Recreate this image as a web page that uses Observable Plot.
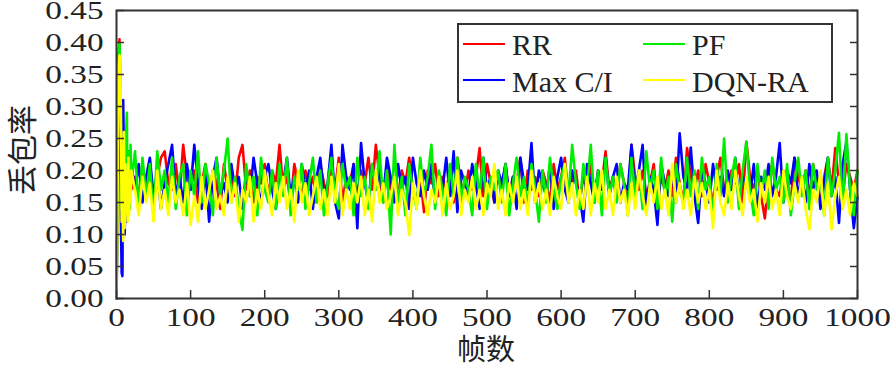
<!DOCTYPE html>
<html><head><meta charset="utf-8">
<script src="https://cdn.jsdelivr.net/npm/d3@7"></script>
<script src="https://cdn.jsdelivr.net/npm/@observablehq/plot@0.6"></script>
<style>
body{margin:0;background:#fff;}
#wrap{position:relative;width:892px;height:367px;overflow:hidden;}
#legend{position:absolute;left:457px;top:23px;}
</style></head><body><div id="wrap"></div>
<script>
// frame index: every frame for 0..20, then every 5 frames up to 1000
const frames = d3.range(0, 21).concat(d3.range(25, 1001, 5));

const seriesNames = ["RR", "Max C/I", "PF", "DQN-RA"];
const seriesColors = ["#ff0000", "#0000ff", "#00ee00", "#ffff00"];

const xTicks = [0, 100, 200, 300, 400, 500, 600, 700, 800, 900, 1000];
const yTicks = [0, 0.05, 0.10, 0.15, 0.20, 0.25, 0.30, 0.35, 0.40, 0.45];

const rr = [
  0,.12,.30,.38,.405,.33,.22,.15,.19,.21,.16,.20,.18,.22,.17,.19,.21,.16,.19,.20,.17,
  .19,.16,.21,.17,.20,.15,.19,.22,.23,.18,
  .17,.21,.16,.24,.19,.17,.20,.15,.18,.21,
  .16,.20,.18,.14,.21,.17,.19,.16,.22,.24,
  .17,.20,.15,.19,.18,.21,.16,.20,.18,.24,
  .17,.19,.15,.21,.18,.16,.20,.17,.19,.15,
  .21,.18,.16,.20,.17,.22,.15,.19,.18,.21,
  .16,.20,.18,.22,.17,.24,.19,.15,.21,.17,
  .19,.16,.20,.18,.22,.17,.15,.19,.135,.20,
  .18,.21,.16,.19,.17,.20,.15,.22,.18,.16,
  .20,.17,.19,.235,.16,.21,.18,.15,.19,.17,
  .21,.16,.19,.18,.22,.15,.20,.17,.19,.16,
  .20,.18,.15,.21,.17,.19,.22,.16,.18,.20,
  .15,.19,.17,.21,.16,.20,.18,.23,.17,.19,
  .16,.21,.18,.15,.24,.19,.17,.20,.16,.18,
  .21,.15,.19,.17,.20,.16,.22,.18,.15,.235,
  .19,.17,.20,.16,.21,.18,.15,.19,.22,.17,
  .16,.20,.18,.21,.15,.245,.19,.17,.20,.16,
  .125,.19,.21,.17,.16,.20,.18,.15,.22,.19,
  .17,.20,.16,.21,.18,.15,.19,.22,.17,.235,
  .18,.16,.21,.19,.17,.20
];

const maxci = [
  0,.10,.28,.37,.39,.30,.12,.04,.035,.31,.22,.10,.16,.21,.12,.19,.23,.15,.20,.17,.21,
  .17,.21,.15,.19,.22,.16,.20,.14,.18,.21,
  .24,.16,.19,.15,.21,.17,.24,.18,.14,.20,
  .12,.19,.22,.16,.18,.15,.21,.17,.19,.14,
  .20,.16,.22,.18,.15,.19,.21,.17,.14,.20,
  .18,.22,.16,.19,.15,.21,.17,.20,.14,.19,
  .22,.16,.18,.24,.15,.125,.24,.19,.17,.21,
  .11,.243,.18,.15,.21,.17,.20,.16,.22,.19,
  .15,.21,.17,.19,.14,.22,.18,.16,.20,.17,
  .21,.15,.19,.17,.22,.16,.23,.135,.20,.18,
  .16,.21,.18,.14,.22,.17,.19,.15,.20,.18,
  .21,.16,.19,.14,.22,.18,.17,.243,.15,.20,
  .18,.16,.21,.14,.19,.22,.17,.15,.20,.18,
  .16,.12,.21,.18,.15,.20,.17,.22,.16,.19,
  .21,.15,.18,.17,.24,.16,.20,.24,.14,.19,
  .17,.115,.21,.18,.16,.20,.15,.258,.19,.17,
  .236,.16,.118,.20,.18,.15,.21,.17,.19,.16,
  .20,.17,.22,.15,.19,.18,.16,.21,.14,.19,
  .17,.21,.16,.19,.243,.15,.20,.18,.22,.16,
  .19,.15,.21,.17,.20,.14,.18,.22,.16,.19,
  .118,.21,.245,.17,.11,.16
];

const pf = [
  0,.14,.33,.39,.398,.36,.25,.14,.22,.12,.24,.17,.13,.26,.29,.15,.23,.20,.14,.24,.18,
  .23,.14,.22,.16,.21,.13,.23,.17,.20,.15,
  .22,.14,.19,.21,.13,.20,.16,.23,.15,.21,
  .18,.13,.22,.16,.20,.25,.15,.19,.14,.107,
  .21,.16,.19,.13,.22,.17,.15,.20,.14,.21,
  .16,.22,.13,.19,.17,.21,.14,.18,.22,.15,
  .20,.13,.18,.22,.16,.14,.21,.17,.19,.13,
  .22,.16,.19,.14,.21,.17,.23,.15,.20,.10,
  .24,.15,.19,.13,.21,.17,.14,.22,.16,.19,
  .24,.14,.20,.17,.13,.21,.16,.22,.15,.19,
  .17,.13,.21,.16,.22,.14,.19,.17,.20,.15,
  .21,.13,.18,.22,.16,.19,.14,.21,.17,.12,
  .20,.15,.22,.17,.14,.19,.21,.16,.24,.18,
  .14,.21,.17,.24,.15,.20,.13,.22,.16,.19,
  .15,.21,.18,.13,.22,.16,.20,.14,.23,.17,
  .20,.14,.22,.16,.19,.12,.21,.17,.15,.22,
  .16,.20,.14,.22,.17,.19,.13,.21,.16,.25,
  .15,.19,.22,.14,.20,.245,.17,.13,.21,.16,
  .20,.14,.22,.17,.19,.15,.21,.13,.18,.22,
  .16,.20,.14,.21,.17,.19,.13,.22,.16,.20,
  .259,.14,.257,.17,.13,.20
];

const dqnra = [
  0,.09,.25,.36,.38,.37,.29,.12,.20,.09,.26,.11,.21,.14,.19,.12,.22,.13,.18,.15,.20,
  .17,.13,.19,.15,.18,.12,.20,.14,.17,.13,
  .19,.15,.17,.13,.18,.115,.16,.12,.19,.14,
  .17,.20,.14,.16,.13,.19,.15,.18,.12,.17,
  .15,.19,.12,.17,.14,.20,.16,.13,.18,.15,
  .19,.14,.17,.12,.20,.15,.18,.13,.16,.19,
  .14,.17,.13,.19,.15,.21,.13,.17,.14,.18,
  .15,.19,.13,.17,.12,.20,.15,.18,.14,.16,
  .19,.13,.17,.15,.099,.18,.14,.20,.16,.13,
  .17,.15,.19,.13,.18,.14,.16,.20,.13,.17,
  .15,.19,.14,.17,.13,.18,.16,.21,.14,.17,
  .13,.18,.15,.19,.14,.17,.13,.20,.15,.18,
  .14,.17,.13,.19,.16,.14,.21,.15,.18,.13,
  .17,.14,.19,.13,.18,.15,.20,.14,.17,.13,
  .19,.15,.17,.13,.18,.14,.20,.16,.13,.18,
  .15,.19,.14,.17,.13,.21,.15,.18,.14,.17,
  .13,.19,.15,.18,.14,.17,.11,.20,.15,.13,
  .18,.14,.20,.16,.13,.19,.15,.17,.12,.18,
  .15,.19,.14,.17,.13,.20,.16,.14,.18,.15,
  .19,.14,.108,.17,.15,.20,.13,.18,.108,.16,
  .19,.14,.17,.13,.18,.16
];

const seriesValues = [rr, maxci, pf, dqnra];
const rows = [];
seriesValues.forEach((vals, s) => vals.forEach((v, i) => rows.push({frame: frames[i], value: v, series: seriesNames[s]})));

const chart = Plot.plot({
  width: 892, height: 367,
  marginLeft: 116, marginRight: 35, marginTop: 10, marginBottom: 69,
  x: {domain: [0, 1000]},
  y: {domain: [0, 0.45]},
  color: {domain: seriesNames, range: seriesColors},
  style: {fontFamily: "Liberation Serif, serif", fontSize: "26px", color: "#222", background: "white", overflow: "visible"},
  marks: [
    Plot.lineY(rows, {x: "frame", y: "value", z: "series", stroke: "series", strokeWidth: 2.6}),
    Plot.frame({stroke: "#333", strokeWidth: 2}),
    Plot.axisX({ticks: xTicks, tickSize: -8, tickPadding: 17, label: null, tickFormat: d => String(d), stroke: "#333", strokeWidth: 1.5}),
    Plot.axisY({ticks: yTicks, tickSize: -8, tickPadding: 21, label: null, tickFormat: d => d.toFixed(2), stroke: "#333", strokeWidth: 1.5}),
    Plot.axisY({anchor: "right", ticks: yTicks, tickSize: -8, tickFormat: () => "", label: null, stroke: "#333", strokeWidth: 1.5})
  ]
});

const wrap = document.getElementById("wrap");
wrap.appendChild(chart);

// horizontally widen the tick labels as in the reference
chart.querySelectorAll('g[aria-label="x-axis tick label"] text, g[aria-label="y-axis tick label"] text').forEach(t => {
  const L = t.getComputedTextLength();
  if (L > 0) { t.setAttribute("textLength", (L * 1.28).toFixed(1)); t.setAttribute("lengthAdjust", "spacingAndGlyphs"); }
});

// axis titles
const svg = d3.select(chart);
svg.append("text").attr("x", 486).attr("y", 360).attr("text-anchor", "middle")
  .style("font-family", "'Noto Sans CJK SC', sans-serif").style("font-size", "29px").attr("fill", "#222")
  .text("帧数");
svg.append("text").attr("transform", "translate(20,150) rotate(-90)").attr("text-anchor", "middle").attr("dominant-baseline", "central")
  .style("font-family", "'Noto Sans CJK SC', sans-serif").style("font-size", "30px").attr("fill", "#222")
  .text("丢包率");

// legend
const lg = d3.select(wrap).append("svg").attr("id", "legend").attr("width", 376).attr("height", 80);
lg.append("rect").attr("x", 1).attr("y", 1).attr("width", 374).attr("height", 78).attr("fill", "white").attr("stroke", "#333").attr("stroke-width", 2);
const pos = [[6, 21, 55, 32], [6, 57, 55, 69], [186, 21, 235, 32], [186, 57, 235, 69]];
[0, 1, 2, 3].forEach((s, k) => {
  const [lx, ly, tx, ty] = pos[k];
  lg.append("line").attr("x1", lx).attr("x2", lx + 42).attr("y1", ly).attr("y2", ly).attr("stroke", seriesColors[s]).attr("stroke-width", 2);
  lg.append("text").attr("x", tx).attr("y", ty).style("font-family", "'Liberation Serif', serif").style("font-size", "30px").attr("fill", "#222").text(seriesNames[s]);
});
</script></body></html>
